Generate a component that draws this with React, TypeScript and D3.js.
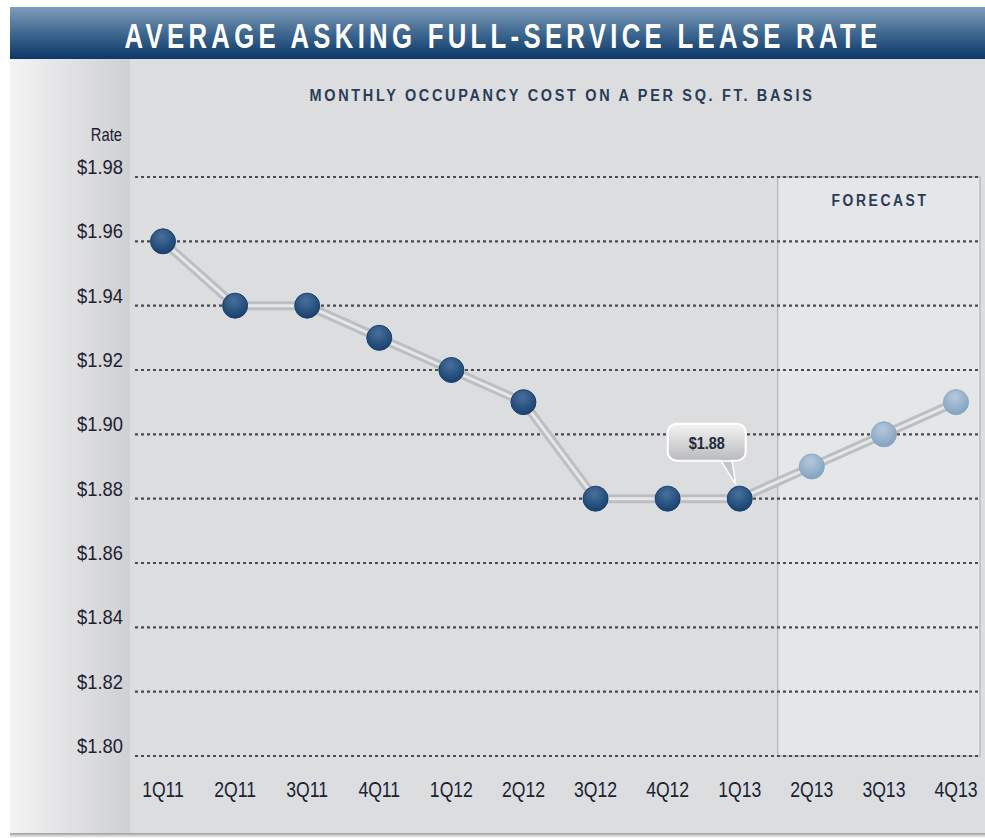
import React from "react";
import * as d3 from "d3";

const quarters = ["1Q11","2Q11","3Q11","4Q11","1Q12","2Q12","3Q12","4Q12","1Q13","2Q13","3Q13","4Q13"];
const rates = [1.96,1.94,1.94,1.93,1.92,1.91,1.88,1.88,1.88,1.89,1.90,1.91];
const forecastFlags = [false,false,false,false,false,false,false,false,false,true,true,true];
const yTicks = [1.80,1.82,1.84,1.86,1.88,1.90,1.92,1.94,1.96,1.98];
const calloutIndex = 8;
const title = "AVERAGE ASKING FULL-SERVICE LEASE RATE";
const subtitle = "MONTHLY OCCUPANCY COST ON A PER SQ. FT. BASIS";
const forecastLabel = "FORECAST";
const yAxisTitle = "Rate";

const W = 985, H = 838;
const SANS = "'Liberation Sans', Arial, sans-serif";

function NText(props: { x: number; y: number; sx: number; anchor?: string; size: number; weight?: string; fill: string; spacing?: number; children: React.ReactNode }) {
  const { x, y, sx, anchor = "middle", size, weight = "normal", fill, spacing = 0, children } = props;
  return (
    <text transform={`translate(${x},${y}) scale(${sx},1)`} textAnchor={anchor} fontFamily={SANS}
      fontSize={size} fontWeight={weight} fill={fill} letterSpacing={spacing}>{children}</text>
  );
}

export default function App() {
  const x = d3.scalePoint<string>().domain(quarters).range([163, 956]);
  const y = d3.scaleLinear().domain([1.80, 1.98]).range([756, 177]);
  const line = d3.line<number>().x((_, i) => x(quarters[i])!).y(d => y(d));
  const pathD = line(rates)!;
  const firstForecast = forecastFlags.indexOf(true);
  const fx0 = (x(quarters[firstForecast - 1])! + x(quarters[firstForecast])!) / 2 + 2;
  const cx = x(quarters[calloutIndex])!;
  const cy = y(rates[calloutIndex]);
  const fmt = d3.format("$.2f");

  return (
    <svg width={W} height={H} style={{ position: "absolute", left: 0, top: 0, background: "#fff" }}>
      <defs>
        <linearGradient id="hdr" x1="0" y1="0" x2="0" y2="1">
          <stop offset="0" stopColor="#7f9cb9" />
          <stop offset="0.5" stopColor="#3f6890" />
          <stop offset="1" stopColor="#0c3767" />
        </linearGradient>
        <linearGradient id="strip" x1="0" y1="0" x2="1" y2="0">
          <stop offset="0" stopColor="#f3f3f4" />
          <stop offset="1" stopColor="#cfd0d2" />
        </linearGradient>
        <radialGradient id="dark" cx="0.45" cy="0.3" r="0.75">
          <stop offset="0" stopColor="#47709c" />
          <stop offset="1" stopColor="#143d6c" />
        </radialGradient>
        <radialGradient id="light" cx="0.45" cy="0.3" r="0.75">
          <stop offset="0" stopColor="#b5c9db" />
          <stop offset="1" stopColor="#7f9fbd" />
        </radialGradient>
        <linearGradient id="bubble" x1="0" y1="0" x2="0" y2="1">
          <stop offset="0" stopColor="#f4f4f4" />
          <stop offset="1" stopColor="#b9babc" />
        </linearGradient>
        <linearGradient id="shadow" x1="0" y1="0" x2="0" y2="1">
          <stop offset="0" stopColor="#9a9b9d" />
          <stop offset="1" stopColor="#ffffff" />
        </linearGradient>
      </defs>

      {/* panel */}
      <rect x={10} y={833} width={975} height={5} fill="url(#shadow)" />
      <rect x={10} y={58} width={975} height={775} fill="#dcdddf" />
      <rect x={10} y={58} width={120} height={775} fill="url(#strip)" />

      {/* header */}
      <rect x={10} y={7} width={975} height={52} fill="url(#hdr)" />
      <NText x={503} y={48} sx={0.715} size={36} weight="bold" spacing={6} fill="#fff">{title}</NText>

      <text x={562} y={101} textAnchor="middle" fill="#2a3b58" fontFamily={SANS} fontWeight="bold"
        fontSize={16} letterSpacing={3} textLength={505} lengthAdjust="spacingAndGlyphs">{subtitle}</text>

      {/* forecast box */}
      <rect x={fx0} y={y(1.98)} width={980 - fx0} height={y(1.80) - y(1.98)} fill="#e5e6e8" stroke="#a9aaac" strokeWidth={1} />
      <text x={880} y={206} textAnchor="middle" fill="#2a3b58" fontFamily={SANS} fontWeight="bold"
        fontSize={16} letterSpacing={3} textLength={97} lengthAdjust="spacingAndGlyphs">{forecastLabel}</text>

      {/* gridlines */}
      {yTicks.map(t => (
        <line key={t} x1={135} x2={980} y1={y(t)} y2={y(t)} stroke="#4a4b4d" strokeWidth={2.2} strokeDasharray="3 3" />
      ))}

      {/* y labels */}
      <NText x={122} y={141} sx={0.82} anchor="end" size={18} fill="#1a2233">{yAxisTitle}</NText>
      {yTicks.map(t => (
        <NText key={t} x={123} y={y(t) - 3} sx={0.92} anchor="end" size={20} fill="#1a2233">{fmt(t)}</NText>
      ))}

      {/* x labels */}
      {quarters.map(q => (
        <NText key={q} x={x(q)!} y={797} sx={0.8} size={22} fill="#1a2233">{q}</NText>
      ))}

      {/* line */}
      <path d={pathD} fill="none" stroke="#bdbec0" strokeWidth={9} strokeLinejoin="round" />
      <path d={pathD} fill="none" stroke="#e6e7e8" strokeWidth={3} strokeLinejoin="round" />

      {/* points */}
      {rates.map((r, i) => (
        <circle key={i} cx={x(quarters[i])} cy={y(r)} r={12.5}
          fill={forecastFlags[i] ? "url(#light)" : "url(#dark)"}
          stroke={forecastFlags[i] ? "#8aa7c2" : "#1a3f6b"} strokeWidth={1} />
      ))}

      {/* callout */}
      <g>
        <path d={`M${cx - 20},${cy - 40} L${cx - 4},${cy - 14} L${cx - 8},${cy - 40} Z`} fill="#c4c5c7" stroke="#fff" strokeWidth={1.5} />
        <rect x={cx - 72} y={cy - 75} width={78} height={37} rx={9} fill="url(#bubble)" stroke="#fff" strokeWidth={2} />
        <path d={`M${cx - 19},${cy - 39.5} L${cx - 9},${cy - 39.5}`} stroke="#bcbdbf" strokeWidth={2} />
        <NText x={cx - 33} y={cy - 50} sx={0.85} size={17} weight="bold" fill="#1e2a3c">{fmt(rates[calloutIndex])}</NText>
      </g>
    </svg>
  );
}
